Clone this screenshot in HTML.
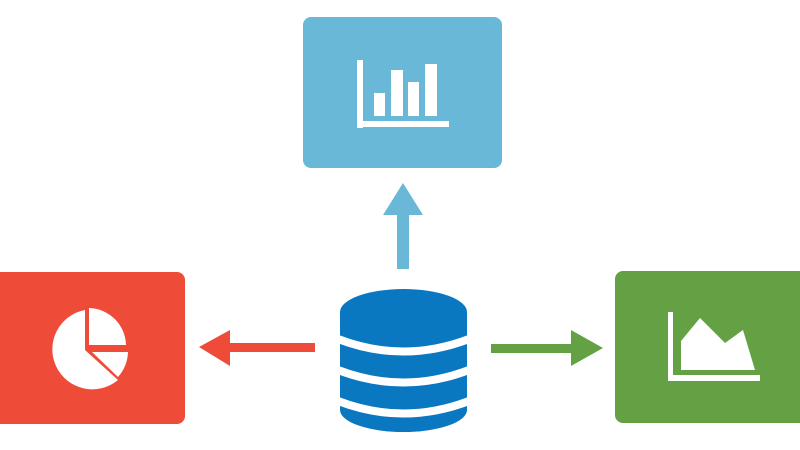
<!DOCTYPE html>
<html><head><meta charset="utf-8"><style>html,body{margin:0;padding:0;background:#fff;width:800px;height:450px;overflow:hidden}</style></head>
<body>
<svg width="800" height="450" viewBox="0 0 800 450" xmlns="http://www.w3.org/2000/svg">
<!-- blue box -->
<rect x="303" y="17" width="199" height="151" rx="8" fill="#69b8d8"/>
<rect x="357" y="60" width="6" height="68" fill="#fff"/>
<rect x="357" y="121" width="92" height="6" fill="#fff"/>
<rect x="374" y="93" width="11" height="23" fill="#fff"/>
<rect x="391" y="70" width="12" height="46" fill="#fff"/>
<rect x="408" y="82" width="11" height="34" fill="#fff"/>
<rect x="425" y="64" width="12" height="52" fill="#fff"/>
<!-- up arrow -->
<rect x="397" y="212" width="12" height="57" fill="#69b8d8"/>
<polygon points="403,183 423,215 383,215" fill="#69b8d8"/>
<!-- red box -->
<rect x="-10" y="272" width="195" height="152" rx="8" fill="#ef4b39"/>
<path d="M85,310 L85,350 L118,380 A40,40 0 1 1 85,310 Z" fill="#fff"/>
<path d="M89,308 A38,38 0 0 1 126,345 L89,345 Z" fill="#fff"/>
<path d="M92,352 L128,352 A40,40 0 0 1 118,377 Z" fill="#fff"/>
<!-- red arrow -->
<rect x="228" y="343" width="87" height="9" fill="#ef4b39"/>
<polygon points="199,347 230,330 230,366" fill="#ef4b39"/>
<!-- database -->
<rect x="340" y="312" width="127" height="98" fill="#0a78c0"/>
<ellipse cx="403.5" cy="312" rx="63.5" ry="23" fill="#0a78c0"/>
<ellipse cx="403.5" cy="410" rx="63.5" ry="22" fill="#0a78c0"/>
<path d="M338,339 Q403.5,364 469,339" stroke="#fff" stroke-width="8" fill="none"/>
<path d="M338,370 Q403.5,395 469,370" stroke="#fff" stroke-width="8" fill="none"/>
<path d="M338,401 Q403.5,426 469,401" stroke="#fff" stroke-width="8" fill="none"/>
<!-- green arrow -->
<rect x="491" y="344" width="83" height="9" fill="#64a044"/>
<polygon points="603,348 571,330 571,366" fill="#64a044"/>
<!-- green box -->
<rect x="615" y="271" width="200" height="152" rx="8" fill="#64a044"/>
<rect x="668" y="312" width="5" height="69" fill="#fff"/>
<rect x="668" y="375" width="92" height="6" fill="#fff"/>
<polygon points="681,341 700,318 725,343 743,330 755,370 681,370" fill="#fff"/>
</svg>
</body></html>
